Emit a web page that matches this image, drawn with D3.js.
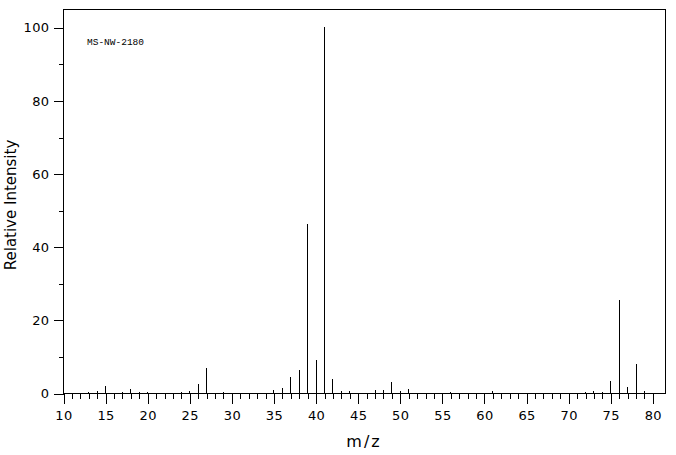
<!DOCTYPE html>
<html>
<head>
<meta charset="utf-8">
<script src="https://cdn.jsdelivr.net/npm/d3@7"></script>
<style>
  html, body { margin: 0; padding: 0; background: #fff; }
  svg { display: block; }
</style>
</head>
<body>
<svg id="chart" width="676" height="455"></svg>
<script>
// m/z values and relative intensities
const mzValues = [13, 14, 15, 17, 18, 19, 20, 24, 25, 26, 27, 29,
  35, 36, 37, 38, 39, 40, 41, 42, 43, 44, 47, 48, 49, 50, 51, 56, 61,
  72, 73, 74, 75, 76, 77, 78, 79];
const intensities = [0.3, 0.5, 2.0, 0.2, 1.2, 0.2, 0.2, 0.2, 0.6, 2.5, 6.7, 0.3,
  0.9, 1.3, 4.5, 6.4, 46.3, 9.1, 100, 3.9, 0.6, 0.45, 0.7, 0.7, 3.1, 0.45, 1.2, 0.4, 0.65,
  0.35, 0.6, 0.35, 3.2, 25.5, 1.7, 8.0, 0.6];
const xMajorTicks = [10, 15, 20, 25, 30, 35, 40, 45, 50, 55, 60, 65, 70, 75, 80];
const xMinorTicks = d3.range(10, 81, 1);
const yMajorTicks = [0, 20, 40, 60, 80, 100];
const yMinorTicks = [10, 30, 50, 70, 90];
const sampleLabel = "MS-NW-2180";
const xTitle = "m/z";
const yTitle = "Relative Intensity";

(function () {
const svg = d3.select("#chart");
const pLeft = 63, pRight = 665, pTop = 9, pBottom = 393;
const x = d3.scaleLinear().domain([10, 81.5]).range([pLeft, pRight]);
const y = d3.scaleLinear().domain([0, 105]).range([pBottom, pTop]);
const font = "DejaVu Sans, sans-serif";
const px = v => Math.round(v) + 0.5;

// bars
svg.append("g")
  .selectAll("line")
  .data(mzValues.map((m, i) => ({ m, v: intensities[i] })))
  .join("line")
  .attr("x1", d => px(x(d.m)))
  .attr("x2", d => px(x(d.m)))
  .attr("y1", px(y(0)))
  .attr("y2", d => Math.round(y(d.v)))
  .attr("stroke", "#000")
  .attr("stroke-width", 1)
  .attr("shape-rendering", "crispEdges");

// frame
svg.append("rect")
  .attr("x", pLeft + 0.5).attr("y", pTop + 0.5)
  .attr("width", pRight - pLeft).attr("height", pBottom - pTop)
  .attr("fill", "none").attr("stroke", "#000").attr("stroke-width", 1)
  .attr("shape-rendering", "crispEdges");

// x ticks
const xMinorAxis = d3.axisBottom(x).tickValues(xMinorTicks).tickSize(5).tickFormat("");
const xMajorAxis = d3.axisBottom(x).tickValues(xMajorTicks).tickSize(10).tickPadding(6);
const gxm = svg.append("g").attr("transform", `translate(0.5,${pBottom + 0.5})`).call(xMinorAxis);
const gx = svg.append("g").attr("transform", `translate(0.5,${pBottom + 0.5})`).call(xMajorAxis);
[gxm, gx].forEach(g => {
  g.select(".domain").remove();
  g.selectAll("line").attr("stroke", "#000").attr("shape-rendering", "crispEdges");
});
gx.selectAll("text")
  .attr("y", 26).attr("dy", null)
  .attr("fill", "#000")
  .style("font-family", font).style("font-size", "13px").style("letter-spacing", "0.4px");

// y ticks
const yMinorAxis = d3.axisLeft(y).tickValues(yMinorTicks).tickSize(5).tickFormat("");
const yMajorAxis = d3.axisLeft(y).tickValues(yMajorTicks).tickSize(10).tickPadding(4);
const gym = svg.append("g").attr("transform", `translate(${pLeft + 0.5},0.5)`).call(yMinorAxis);
const gy = svg.append("g").attr("transform", `translate(${pLeft + 0.5},0.5)`).call(yMajorAxis);
[gym, gy].forEach(g => {
  g.select(".domain").remove();
  g.selectAll("line").attr("stroke", "#000").attr("shape-rendering", "crispEdges");
});
gy.selectAll("text")
  .attr("fill", "#000")
  .style("font-family", font).style("font-size", "13px").style("letter-spacing", "0.4px");

// sample label
svg.append("text")
  .attr("x", 87).attr("y", 45)
  .style("font-family", "Liberation Mono, DejaVu Sans Mono, monospace")
  .style("font-size", "9.5px")
  .attr("fill", "#000")
  .text(sampleLabel);

// axis titles
svg.append("text")
  .attr("x", (pLeft + pRight) / 2).attr("y", 447)
  .attr("text-anchor", "middle")
  .style("font-family", font).style("font-size", "16px").style("letter-spacing", "2px")
  .attr("fill", "#000")
  .text(xTitle);

svg.append("text")
  .attr("transform", `translate(16,${(pTop + pBottom) / 2 + 4}) rotate(-90)`)
  .attr("text-anchor", "middle")
  .style("font-family", font).style("font-size", "15px")
  .attr("fill", "#000")
  .text(yTitle);
})();
</script>
</body>
</html>
